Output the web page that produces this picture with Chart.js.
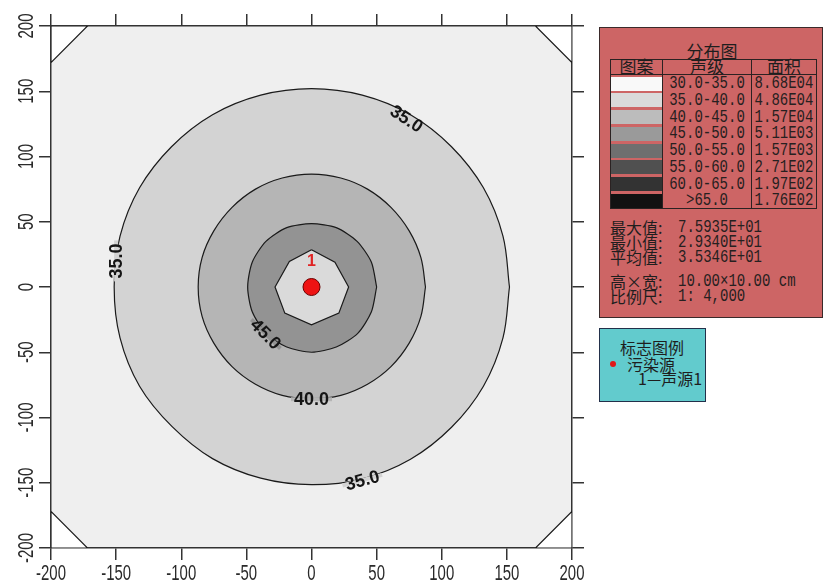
<!DOCTYPE html>
<html>
<head>
<meta charset="utf-8">
<script src="https://cdn.jsdelivr.net/npm/chart.js@4.4.0/dist/chart.umd.min.js"></script>
<style>
  body { margin: 0; background: #fff; }
  #wrap { position: relative; width: 826px; height: 583px; overflow: hidden; background: #fff; }
  #chartBox { position: absolute; left: 0; top: 0; width: 826px; height: 583px; }
  .panel { position: absolute; box-sizing: border-box; border: 1px solid #3a2a2a; }
  #dist { left: 599px; top: 27px; width: 224px; height: 291px; background: #cd6565; }
  #mark { left: 599px; top: 328px; width: 107px; height: 74px; background: #62cbcd; border-color: #23304a; }
  .cn { position: absolute; font-family: "Noto Sans CJK SC", sans-serif; color: #1e1e1e; white-space: nowrap; }
  .num { position: absolute; font-family: "Liberation Mono", "DejaVu Sans Mono", monospace; font-size: 14px; color: #262020; white-space: nowrap; transform: scaleY(1.3); }
  #tbl { position: absolute; left: 610px; top: 59px; width: 207px; height: 150px; box-sizing: border-box; border: 1px solid #2b2222; }
  .vline { position: absolute; top: 0; bottom: 0; width: 1px; background: #2b2222; }
  .hline { position: absolute; left: 0; right: 0; height: 1px; background: #2b2222; }
</style>
</head>
<body>
<div id="wrap">
  <div id="chartBox"><canvas id="c"></canvas></div>
  <div id="dist" class="panel"></div>
  <div class="cn" style="left:660px;top:42px;width:104px;text-align:center;font-size:17px;line-height:17px;">分布图</div>
  <div id="tbl">
    <div class="vline" style="left:51px"></div>
    <div class="vline" style="left:140px"></div>
    <div class="hline" style="top:14px"></div>
    <div class="cn" style="left:0;top:-3px;width:51px;text-align:center;font-size:17px;line-height:17px;">图案</div>
    <div class="cn" style="left:52px;top:-3px;width:88px;text-align:center;font-size:17px;line-height:17px;">声级</div>
    <div class="cn" style="left:141px;top:-3px;width:64px;text-align:center;font-size:17px;line-height:17px;">面积</div>
  </div>
  <div id="stats"></div>
  <div id="mark" class="panel"></div>
  <div class="cn" style="left:614px;top:339px;width:76px;text-align:center;font-size:16px;line-height:17px;">标志图例</div>
  <div style="position:absolute;left:610px;top:361px;width:6px;height:6px;border-radius:50%;background:#e01818;"></div>
  <div class="cn" style="left:627px;top:356px;font-size:16px;line-height:16px;">污染源</div>
  <div class="cn" style="left:638px;top:370px;font-size:16px;line-height:16px;">1—声源1</div>
</div>
<script>
// contour map of sound level around one source

const xTicks = [-200, -150, -100, -50, 0, 50, 100, 150, 200];
const yTicks = [-200, -150, -100, -50, 0, 50, 100, 150, 200];

// contour outlines (metres)
const contour35 = [[152, 0], [147, 39], [132, 76], [107.5, 107.5], [76, 132], [39, 147], [0, 152],
  [-39, 147], [-76, 132], [-107.5, 107.5], [-132, 76], [-147, 39], [-151.5, 0], [-147, -39],
  [-132, -76], [-107, -107], [-76, -131.5], [-39, -146.5], [0, -151.5], [39, -147], [76, -132],
  [107.5, -107.5], [132, -76], [147, -39], [152, 0]];
const contour40 = [[87.5, 0], [84, 22.5], [75, 43], [61, 61], [43, 75], [22.5, 83.5], [0, 86.5],
  [-22.5, 83.5], [-43, 75], [-61, 61], [-75, 43], [-84, 22.5], [-87, 0], [-84, -22.5],
  [-75, -43], [-61, -61], [-43, -74.5], [-22.5, -83], [0, -85.5], [22.5, -83], [43, -74.5],
  [61, -61], [75, -43], [84, -22.5], [87.5, 0]];
const contour45 = [[50, 0], [46, 19], [35, 35], [19, 45.5], [0, 48.5], [-19, 45.5], [-35, 35],
  [-45.5, 19], [-49, 0], [-45.5, -19], [-35, -35.5], [-19, -46], [0, -50], [19, -46],
  [35.5, -35.5], [46, -19], [50, 0]];
const contourInner = [[0, 28.5], [18, 19], [28.5, 0], [21, -20], [0, -29], [-20.5, -20], [-28, 0],
  [-17, 19.5], [0, 28.5]];
const cornerCuts = [
  [[-200, 172], [-172, 200], [-200, 200], [-200, 172]],
  [[172, 200], [200, 172], [200, 200], [172, 200]],
  [[-200, -172], [-172, -200], [-200, -200], [-200, -172]],
  [[172, -200], [200, -172], [200, -200], [172, -200]]
];

const contourLabels = ['35.0', '35.0', '45.0', '40.0', '35.0'];
const contourLabelX = [73, -150, -35, 0, 39];
const contourLabelY = [129, 20, -36, -86, -148];

const sourceX = [0];
const sourceY = [0];
const sourceNames = ['1'];

const levelBands = ['30.0-35.0', '35.0-40.0', '40.0-45.0', '45.0-50.0', '50.0-55.0', '55.0-60.0', '60.0-65.0', '>65.0'];
const levelAreas = ['8.68E04', '4.86E04', '1.57E04', '5.11E03', '1.57E03', '2.71E02', '1.97E02', '1.76E02'];
const statNames = ['最大值:', '最小值:', '平均值:', '高×宽:', '比例尺:'];
const statValues = ['7.5935E+01', '2.9340E+01', '3.5346E+01', '10.00×10.00 cm', '1: 4,000'];

// styles
const levelColors = ['#f9f9f9', '#dadada', '#bcbcbc', '#9a9a9a', '#6f6f6f', '#505050', '#333333', '#121212'];
const labelAngles = [33, -90, 45, 0, -15];
const labelGap = ['#d3d3d3', '#d3d3d3', '#939393', '#b5b5b5', '#d3d3d3'];

// legend table
const tbl = document.getElementById('tbl');
levelBands.forEach((band, i) => {
  const top = 15 + i * 16.75;
  const sw = document.createElement('div');
  sw.style.cssText = `position:absolute;left:0;top:${top + 1.5}px;width:51px;height:14px;background:${levelColors[i]}`;
  tbl.appendChild(sw);
  const b = document.createElement('div');
  b.className = 'num';
  b.style.cssText = `left:52px;top:${top}px;width:88px;text-align:center;line-height:17px;`;
  b.textContent = band;
  tbl.appendChild(b);
  const a = document.createElement('div');
  a.className = 'num';
  a.style.cssText = `left:141px;top:${top}px;width:64px;text-align:center;line-height:17px;`;
  a.textContent = levelAreas[i];
  tbl.appendChild(a);
});

const statTops = [220, 235, 250, 274, 289];
const stats = document.getElementById('stats');
statNames.forEach((n, i) => {
  const l = document.createElement('div');
  l.className = 'cn';
  l.style.cssText = `left:610px;top:${statTops[i]}px;font-size:16px;line-height:15px;`;
  l.textContent = n;
  stats.appendChild(l);
  const v = document.createElement('div');
  v.className = 'num';
  v.style.cssText = `left:678px;top:${statTops[i]}px;line-height:15px;`;
  v.textContent = statValues[i];
  stats.appendChild(v);
});

const toPts = arr => arr.map(p => ({ x: p[0], y: p[1] }));

function region(points, color, tension) {
  return {
    data: toPts(points), showLine: true, fill: 'shape', backgroundColor: color,
    borderColor: '#1a1a1a', borderWidth: 1.2, pointRadius: 0, tension
  };
}

const datasets = [
  { data: sourceX.map((x, i) => ({ x, y: sourceY[i] })), showLine: false, pointRadius: 8.5,
    pointBackgroundColor: '#ee1313', pointBorderColor: '#6a0000', pointBorderWidth: 1 },
  region(contourInner, '#dadada', 0),
  region(contour45, '#939393', 0.25),
  region(contour40, '#b5b5b5', 0.35),
  region(contour35, '#d3d3d3', 0.35)
];
cornerCuts.forEach(c => datasets.push(region(c, '#ffffff', 0)));

const background = {
  id: 'background',
  beforeDraw(chart) {
    const { ctx, chartArea: a } = chart;
    ctx.save();
    ctx.fillStyle = '#efefef';
    ctx.fillRect(a.left, a.top, a.right - a.left, a.bottom - a.top);
    ctx.restore();
  }
};

const contourText = {
  id: 'contourText',
  afterDatasetsDraw(chart) {
    const ctx = chart.ctx, xs = chart.scales.x, ys = chart.scales.y;
    contourLabels.forEach((txt, i) => {
      ctx.save();
      ctx.translate(xs.getPixelForValue(contourLabelX[i]), ys.getPixelForValue(contourLabelY[i]));
      ctx.rotate(labelAngles[i] * Math.PI / 180);
      ctx.font = 'bold 18px "Liberation Sans", Arial, sans-serif';
      const w = ctx.measureText(txt).width;
      ctx.fillStyle = labelGap[i];
      ctx.fillRect(-w / 2 - 3, -2, w + 6, 4);
      ctx.fillStyle = '#151515';
      ctx.textAlign = 'center';
      ctx.textBaseline = 'middle';
      ctx.fillText(txt, 0, 1);
      ctx.restore();
    });
    ctx.save();
    ctx.font = 'bold 16px "Liberation Sans", Arial, sans-serif';
    ctx.fillStyle = '#e02424';
    ctx.textAlign = 'center';
    ctx.textBaseline = 'middle';
    sourceNames.forEach((n, i) => {
      ctx.fillText(n, xs.getPixelForValue(sourceX[i]), ys.getPixelForValue(sourceY[i]) - 25);
    });
    ctx.restore();
  }
};

const axisLabels = {
  id: 'axisLabels',
  afterDraw(chart) {
    const ctx = chart.ctx, xs = chart.scales.x, ys = chart.scales.y;
    ctx.save();
    ctx.fillStyle = '#2a2a2a';
    ctx.font = '22px "Liberation Sans", Arial, sans-serif';
    ctx.textAlign = 'center';
    ctx.textBaseline = 'middle';
    xs.ticks.forEach(t => {
      ctx.save();
      ctx.translate(xs.getPixelForValue(t.value), 574);
      ctx.scale(0.68, 1);
      ctx.fillText(String(t.value), 0, 0);
      ctx.restore();
    });
    ys.ticks.forEach(t => {
      ctx.save();
      ctx.translate(27, ys.getPixelForValue(t.value));
      ctx.rotate(-Math.PI / 2);
      ctx.scale(0.68, 1);
      ctx.fillText(String(t.value), 0, 0);
      ctx.restore();
    });
    ctx.restore();
  }
};

function axis(position, size, ticks) {
  const horiz = position === 'top' || position === 'bottom';
  return {
    type: 'linear', position, min: -200, max: 200,
    axis: horiz ? 'x' : 'y',
    afterBuildTicks: s => { s.ticks = ticks.map(v => ({ value: v })); },
    afterFit: s => { if (horiz) s.height = size; else s.width = size; },
    ticks: { display: false },
    grid: { drawOnChartArea: false, drawTicks: true, tickLength: 12, color: '#333', lineWidth: 1.5 },
    border: { display: true, color: '#333', width: 1.5 }
  };
}

new Chart(document.getElementById('c'), {
  type: 'scatter',
  data: { datasets },
  options: {
    responsive: true, maintainAspectRatio: false, animation: false,
    layout: { padding: 0 },
    plugins: { legend: { display: false }, tooltip: { enabled: false } },
    scales: {
      x: axis('bottom', 35, xTicks),
      x2: axis('top', 26, xTicks),
      y: axis('left', 51, yTicks),
      y2: axis('right', 254, yTicks)
    }
  },
  plugins: [background, contourText, axisLabels]
});
</script>
</body>
</html>
